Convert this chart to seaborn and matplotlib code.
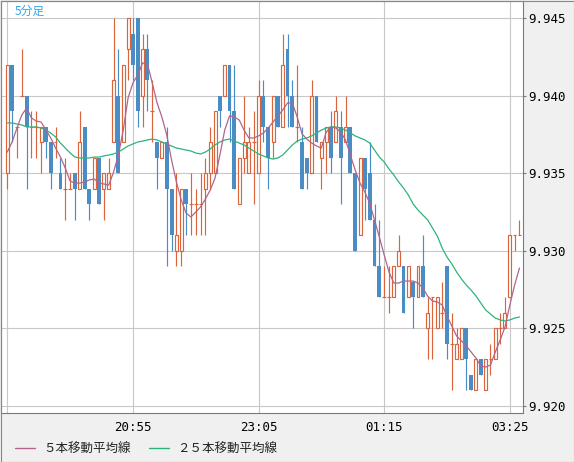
import numpy as np
import seaborn as sns
import matplotlib
matplotlib.use("Agg")
import matplotlib.pyplot as plt
from matplotlib.lines import Line2D
from matplotlib.patches import Rectangle

# 5-minute candles, 18:45 -> 03:35
opens = [9.935, 9.942, 9.938, 9.940, 9.940, 9.938, 9.938, 9.937, 9.938, 9.937,
         9.937, 9.935, 9.934, 9.934, 9.935, 9.934, 9.938, 9.934, 9.934, 9.936,
         9.934, 9.934, 9.937, 9.940, 9.937, 9.943, 9.944, 9.945, 9.940, 9.943,
         9.939, 9.937, 9.936, 9.937, 9.934, 9.930, 9.930, 9.934, 9.933, 9.933,
         9.933, 9.934, 9.935, 9.935, 9.940, 9.940, 9.942, 9.939, 9.933, 9.936,
         9.935, 9.937, 9.935, 9.940, 9.938, 9.937, 9.940, 9.938, 9.943, 9.940,
         9.938, 9.937, 9.936, 9.935, 9.940, 9.936, 9.937, 9.938, 9.937, 9.938,
         9.937, 9.938, 9.935, 9.931, 9.936, 9.935, 9.932, 9.929, 9.927, 9.927,
         9.927, 9.929, 9.929, 9.927, 9.928, 9.927, 9.929, 9.925, 9.927, 9.925,
         9.926, 9.929, 9.924, 9.923, 9.923, 9.925, 9.922, 9.921, 9.923, 9.921,
         9.923, 9.923, 9.925, 9.925, 9.927, 9.931, 9.931]
highs = [9.942, 9.942, 9.938, 9.943, 9.940, 9.939, 9.939, 9.938, 9.938, 9.937,
         9.938, 9.936, 9.936, 9.935, 9.935, 9.939, 9.938, 9.934, 9.936, 9.936,
         9.935, 9.936, 9.945, 9.943, 9.942, 9.945, 9.945, 9.945, 9.944, 9.944,
         9.941, 9.937, 9.937, 9.938, 9.934, 9.935, 9.934, 9.934, 9.935, 9.934,
         9.935, 9.936, 9.938, 9.939, 9.940, 9.942, 9.942, 9.942, 9.936, 9.940,
         9.938, 9.939, 9.941, 9.941, 9.938, 9.940, 9.940, 9.944, 9.944, 9.941,
         9.942, 9.938, 9.936, 9.941, 9.940, 9.937, 9.938, 9.939, 9.940, 9.939,
         9.940, 9.938, 9.935, 9.936, 9.936, 9.937, 9.933, 9.932, 9.929, 9.929,
         9.929, 9.931, 9.929, 9.929, 9.928, 9.929, 9.931, 9.927, 9.927, 9.927,
         9.928, 9.929, 9.926, 9.925, 9.925, 9.925, 9.922, 9.923, 9.923, 9.923,
         9.924, 9.925, 9.926, 9.927, 9.931, 9.931, 9.932]
lows = [9.934, 9.937, 9.936, 9.940, 9.934, 9.936, 9.936, 9.935, 9.936, 9.934,
        9.936, 9.934, 9.932, 9.934, 9.932, 9.934, 9.934, 9.932, 9.934, 9.933,
        9.932, 9.934, 9.937, 9.935, 9.937, 9.941, 9.941, 9.938, 9.938, 9.939,
        9.937, 9.934, 9.936, 9.929, 9.930, 9.929, 9.929, 9.931, 9.931, 9.931,
        9.931, 9.931, 9.934, 9.935, 9.938, 9.940, 9.937, 9.934, 9.933, 9.935,
        9.935, 9.933, 9.935, 9.937, 9.934, 9.936, 9.938, 9.938, 9.938, 9.938,
        9.937, 9.934, 9.934, 9.935, 9.937, 9.934, 9.935, 9.935, 9.937, 9.933,
        9.937, 9.935, 9.930, 9.931, 9.932, 9.932, 9.929, 9.927, 9.927, 9.926,
        9.927, 9.929, 9.926, 9.927, 9.925, 9.927, 9.927, 9.923, 9.923, 9.925,
        9.925, 9.923, 9.921, 9.923, 9.923, 9.921, 9.921, 9.921, 9.922, 9.921,
        9.922, 9.923, 9.924, 9.925, 9.927, 9.930, 9.931]
closes = [9.942, 9.939, 9.938, 9.940, 9.938, 9.938, 9.938, 9.938, 9.937, 9.935,
          9.937, 9.934, 9.934, 9.934, 9.934, 9.937, 9.934, 9.933, 9.936, 9.933,
          9.935, 9.935, 9.941, 9.935, 9.942, 9.945, 9.942, 9.939, 9.943, 9.941,
          9.939, 9.936, 9.937, 9.934, 9.931, 9.931, 9.934, 9.933, 9.933, 9.933,
          9.933, 9.935, 9.937, 9.939, 9.939, 9.942, 9.939, 9.934, 9.936, 9.937,
          9.937, 9.937, 9.940, 9.938, 9.936, 9.940, 9.938, 9.942, 9.940, 9.938,
          9.938, 9.934, 9.935, 9.940, 9.937, 9.937, 9.938, 9.936, 9.939, 9.936,
          9.938, 9.935, 9.930, 9.936, 9.934, 9.932, 9.929, 9.927, 9.927, 9.927,
          9.929, 9.930, 9.926, 9.929, 9.927, 9.929, 9.927, 9.926, 9.927, 9.927,
          9.926, 9.924, 9.924, 9.924, 9.925, 9.923, 9.921, 9.923, 9.922, 9.923,
          9.923, 9.925, 9.925, 9.926, 9.931, 9.931, 9.931]

# moving averages
ma5 = [9.93637, 9.93702, 9.93792, 9.93876, 9.93921, 9.93857, 9.93837, 9.93831, 9.93779, 9.93728,
       9.93663, 9.93605, 9.93534, 9.93450, 9.93437, 9.93437, 9.93444, 9.93457, 9.93463, 9.93437,
       9.93431, 9.93424, 9.93508, 9.93618, 9.93779, 9.93986, 9.94083, 9.94134, 9.94212, 9.94205,
       9.94083, 9.93954, 9.93863, 9.93747, 9.93586, 9.93444, 9.93328, 9.93244, 9.93218, 9.93250,
       9.93283, 9.93334, 9.93392, 9.93470, 9.93618, 9.93779, 9.93870, 9.93863, 9.93844, 9.93779,
       9.93728, 9.93728, 9.93741, 9.93760, 9.93792, 9.93831, 9.93870, 9.93908, 9.93954, 9.93954,
       9.93863, 9.93754, 9.93721, 9.93695, 9.93676, 9.93663, 9.93766, 9.93799, 9.93792, 9.93766,
       9.93715, 9.93618, 9.93521, 9.93437, 9.93379, 9.93308, 9.93199, 9.93089, 9.92973, 9.92863,
       9.92792, 9.92792, 9.92805, 9.92805, 9.92805, 9.92792, 9.92760, 9.92708, 9.92676, 9.92670,
       9.92650, 9.92579, 9.92515, 9.92450, 9.92418, 9.92386, 9.92347, 9.92308, 9.92257, 9.92250,
       9.92263, 9.92347, 9.92424, 9.92508, 9.92650, 9.92779, 9.92889]
ma25 = [9.93825, 9.93825, 9.93818, 9.93812, 9.93799, 9.93799, 9.93799, 9.93792, 9.93779, 9.93760,
        9.93734, 9.93695, 9.93663, 9.93631, 9.93605, 9.93599, 9.93599, 9.93599, 9.93605, 9.93605,
        9.93612, 9.93618, 9.93625, 9.93637, 9.93657, 9.93676, 9.93689, 9.93702, 9.93708, 9.93715,
        9.93721, 9.93715, 9.93702, 9.93689, 9.93676, 9.93663, 9.93657, 9.93650, 9.93644, 9.93631,
        9.93625, 9.93637, 9.93657, 9.93683, 9.93702, 9.93715, 9.93721, 9.93708, 9.93695, 9.93683,
        9.93663, 9.93644, 9.93625, 9.93612, 9.93599, 9.93592, 9.93599, 9.93618, 9.93650, 9.93683,
        9.93708, 9.93721, 9.93728, 9.93741, 9.93760, 9.93779, 9.93792, 9.93799, 9.93799, 9.93792,
        9.93779, 9.93760, 9.93741, 9.93728, 9.93715, 9.93695, 9.93650, 9.93605, 9.93573, 9.93528,
        9.93489, 9.93444, 9.93405, 9.93360, 9.93302, 9.93263, 9.93231, 9.93199, 9.93147, 9.93095,
        9.93018, 9.92960, 9.92915, 9.92863, 9.92818, 9.92779, 9.92746, 9.92708, 9.92663, 9.92618,
        9.92592, 9.92566, 9.92554, 9.92547, 9.92554, 9.92566, 9.92573]

xtick_pos = [0, 26, 52, 78, 104]
xtick_labels = ["", "20:55", "23:05", "01:15", "03:25"]
ytick_vals = [9.920, 9.925, 9.930, 9.935, 9.940, 9.945]

ORANGE = "#dc643c"
BLUE = "#4a8cc4"
PURPLE = "#b4648c"
GREEN = "#2db47a"
PANEL = "#f0f0f0"
GRID = "#c8c8c8"
FRAME = "#7a7a7a"
JP = ["Noto Sans CJK JP", "DejaVu Sans"]

sns.set_theme(style="white")
plt.rcParams.update({
    "font.family": ["DejaVu Sans Mono", "Noto Sans CJK JP"],
    "font.size": 9,
    "axes.linewidth": 0.8,
})

W, H = 574, 462
fig = plt.figure(figsize=(W / 100, H / 100), dpi=100, facecolor=PANEL)
ax = fig.add_axes([1 / W, (H - 412.5) / H, 522 / W, 411.5 / H])
ax.set_facecolor("white")

o = np.array(opens)
hi = np.array(highs)
lo = np.array(lows)
c = np.array(closes)
idx = np.arange(len(c))
up = c > o
dn = c < o
flat = c == o

# wicks
ax.vlines(idx[up | flat], lo[up | flat], hi[up | flat], color=ORANGE, lw=0.85, zorder=2)
ax.vlines(idx[dn], lo[dn], hi[dn], color=BLUE, lw=0.85, zorder=2)
# bodies: up = hollow orange, down = solid blue, unchanged = dash
ax.bar(idx[up], c[up] - o[up], bottom=o[up], width=0.62, facecolor="white",
       edgecolor=ORANGE, linewidth=0.85, zorder=3)
ax.bar(idx[dn], c[dn] - o[dn], bottom=o[dn], width=0.8, color=BLUE,
       linewidth=0, zorder=3)
ax.hlines(o[flat], idx[flat] - 0.38, idx[flat] + 0.38, color=ORANGE, lw=0.85, zorder=3)

sns.lineplot(x=idx, y=ma25, ax=ax, color=GREEN, linewidth=0.9, zorder=4)
sns.lineplot(x=idx, y=ma5, ax=ax, color=PURPLE, linewidth=0.9, zorder=5)

ax.set_xlim(-1.3, 106.73)
ax.set_ylim(9.919568, 9.946116)
ax.set_xticks(xtick_pos)
ax.set_xticklabels(xtick_labels)
ax.set_yticks(ytick_vals)
ax.set_yticklabels([f"{v:.3f}" for v in ytick_vals])
ax.yaxis.tick_right()
ax.tick_params(axis="y", length=2.5, width=0.8, color=FRAME, pad=1, labelsize=9,
               labelcolor="black")
ax.tick_params(axis="x", length=0, pad=6, labelsize=9, labelcolor="black")
ax.set_xlabel("")
ax.set_ylabel("")
ax.grid(True, color=GRID, linewidth=0.8, zorder=0)
ax.set_axisbelow(True)
for s in ax.spines.values():
    s.set_visible(True)
    s.set_color(FRAME)
    s.set_linewidth(0.8)

fig.text(15 / W, 1 - 11.5 / H, "5分足", color="#2ea8e6", fontsize=8.5,
         family=JP, va="center", ha="left")

handles = [Line2D([], [], color=PURPLE, lw=1), Line2D([], [], color=GREEN, lw=1)]
fig.legend(handles, ["５本移動平均線", "２５本移動平均線"], loc="center left",
           bbox_to_anchor=(15 / W, 13 / H), ncol=2, frameon=False,
           prop={"family": JP, "size": 9}, labelcolor="#222222",
           handlelength=1.6, handletextpad=0.7, columnspacing=1.4,
           borderpad=0, borderaxespad=0)

fig.add_artist(Rectangle((0.5 / W, 0.5 / H), (W - 1) / W, (H - 1) / H,
                         transform=fig.transFigure, fill=False,
                         edgecolor="#888888", linewidth=0.8))

fig.savefig("out.png", dpi=100, facecolor=PANEL)
